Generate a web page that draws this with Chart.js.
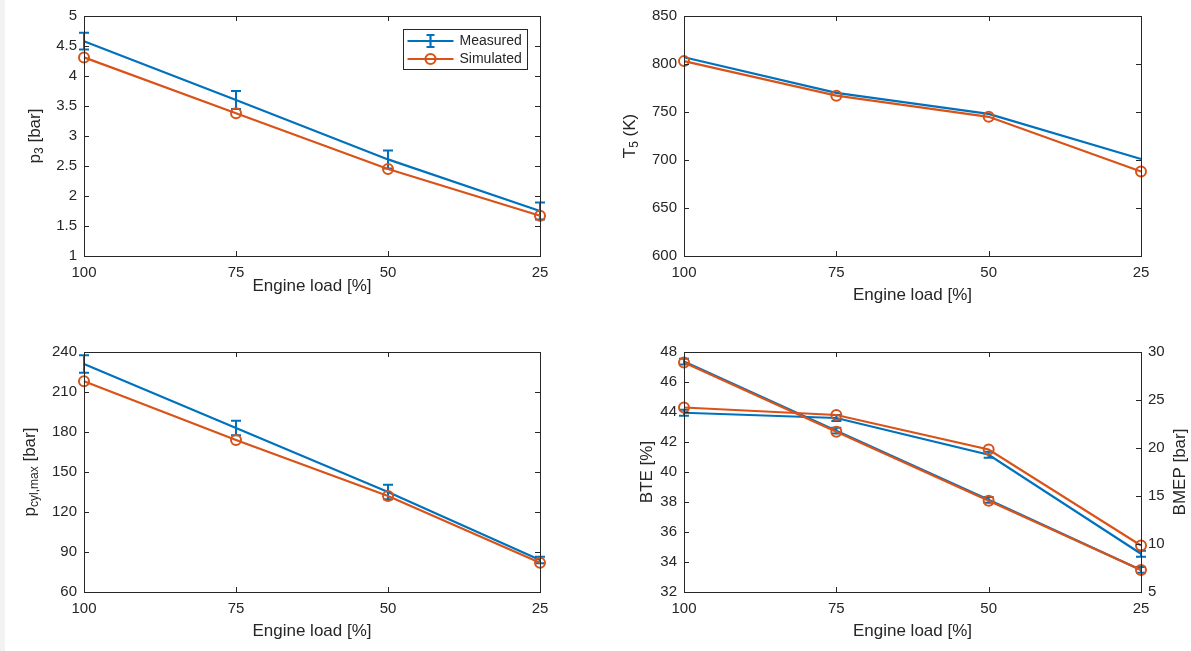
<!DOCTYPE html>
<html>
<head>
<meta charset="utf-8">
<script src="https://cdn.jsdelivr.net/npm/chart.js@4"></script>
<style>
  body { margin: 0; background: #fff; }
  #wrap { position: relative; width: 1191px; height: 651px; overflow: hidden; }
  #wrap canvas { position: absolute; left: 0; top: 0; }
  #edge { position: absolute; left: 0; top: 0; width: 5px; height: 651px; background: #f2f2f2; }
</style>
</head>
<body>
<div id="wrap">
  <div id="edge"></div>
  <canvas id="c1" width="1191" height="651"></canvas>
  <canvas id="c2" width="1191" height="651"></canvas>
  <canvas id="c3" width="1191" height="651"></canvas>
  <canvas id="c4" width="1191" height="651"></canvas>
</div>
<script>
// engine load categories (x axis)
const loadLabels = ['100', '75', '50', '25'];

// p3 [bar]
const p3Measured = [4.58, 3.60, 2.61, 1.75];
const p3MeasuredErr = [0.14, 0.15, 0.15, 0.14];
const p3Simulated = [4.31, 3.38, 2.45, 1.67];

// T5 (K)
const t5Measured = [807, 770, 748, 701];
const t5Simulated = [803, 767, 745, 688];

// p cyl,max [bar]
const pcylMeasured = [231, 183, 135, 84];
const pcylMeasuredErr = [6.5, 5.5, 5.5, 2.5];
const pcylSimulated = [218, 174, 132, 82];

// BTE [%] (left axis) and BMEP [bar] (right axis)
const bteMeasured = [43.95, 43.6, 41.15, 34.55];
const bteMeasuredErr = [0.2, 0.2, 0.2, 0.2];
const bteSimulated = [44.3, 43.8, 41.5, 35.1];
const bmepMeasured = [29.0, 21.8, 14.6, 7.3];
const bmepMeasuredErr = [0.3, 0.3, 0.3, 0.3];
const bmepSimulated = [28.9, 21.7, 14.5, 7.3];

const BLUE = '#0072BD';
const ORANGE = '#D95319';
const INK = '#262626';
const FAMILY = '"Liberation Sans", Arial, Helvetica, sans-serif';
const TICK_LEN = 5;

Chart.defaults.font.family = FAMILY;
Chart.defaults.color = INK;

//helpers for datasets
function measured(data, err, axis) {
    return {
        label: 'Measured', data: data, errors: err, yAxisID: axis || 'y',
        borderColor: BLUE, backgroundColor: BLUE, borderWidth: 2.2,
        pointRadius: 0, tension: 0, clip: false, order: 2
    };
}
function simulated(data, axis) {
    return {
        label: 'Simulated', data: data, yAxisID: axis || 'y',
        borderColor: ORANGE, backgroundColor: ORANGE, borderWidth: 2.2,
        pointRadius: 5, pointBorderWidth: 2, pointBackgroundColor: 'rgba(0,0,0,0)',
        pointBorderColor: ORANGE, tension: 0, clip: false, order: 1
    };
}
function yScale(min, max, step, pos) {
    return {
        type: 'linear', position: pos || 'left', min: min, max: max,
        grid: { display: false, drawTicks: false },
        border: { display: false },
        ticks: { stepSize: step, padding: 7, font: { size: 15 }, color: INK,
                 callback: v => String(v) },
        afterFit: s => { s.width = pos === 'right' ? 50 : 60; }
    };
}

//plugins
const errorBars = {
    id: 'errorBars',
    beforeDatasetsDraw(chart) {
        const ctx = chart.ctx;
        chart.data.datasets.forEach(ds => {
            if (!ds.errors) return;
            const ys = chart.scales[ds.yAxisID];
            const xs = chart.scales.x;
            ctx.save();
            ctx.strokeStyle = ds.borderColor;
            ctx.lineWidth = 2;
            ctx.beginPath();
            ds.data.forEach((v, i) => {
                const px = xs.getPixelForValue(i);
                const top = ys.getPixelForValue(v + ds.errors[i]);
                const bot = ys.getPixelForValue(v - ds.errors[i]);
                ctx.moveTo(px, top); ctx.lineTo(px, bot);
                ctx.moveTo(px - 5, top); ctx.lineTo(px + 5, top);
                ctx.moveTo(px - 5, bot); ctx.lineTo(px + 5, bot);
            });
            ctx.stroke();
            ctx.restore();
        });
    }
};

const frame = {
    id: 'frame',
    afterDraw(chart) {
        const { ctx, chartArea: a, scales } = chart;
        ctx.save();
        ctx.strokeStyle = INK;
        ctx.lineWidth = 1;
        ctx.beginPath();
        scales.x.ticks.forEach((t, i) => {
            const px = Math.round(scales.x.getPixelForTick(i)) + 0.5;
            ctx.moveTo(px, a.bottom); ctx.lineTo(px, a.bottom - TICK_LEN);
            ctx.moveTo(px, a.top); ctx.lineTo(px, a.top + TICK_LEN);
        });
        const yl = scales.y;
        const yr = scales.y1 || scales.y;
        yl.ticks.forEach(t => {
            const py = Math.round(yl.getPixelForValue(t.value)) + 0.5;
            ctx.moveTo(a.left, py); ctx.lineTo(a.left + TICK_LEN, py);
        });
        yr.ticks.forEach(t => {
            const py = Math.round(yr.getPixelForValue(t.value)) + 0.5;
            ctx.moveTo(a.right, py); ctx.lineTo(a.right - TICK_LEN, py);
        });
        ctx.stroke();
        ctx.strokeRect(Math.round(a.left) + 0.5, Math.round(a.top) + 0.5,
                       Math.round(a.right - a.left), Math.round(a.bottom - a.top));
        ctx.restore();
    }
};

// y titles with subscripts, rotated bottom-to-top
const yTitles = {
    id: 'yTitles',
    afterDraw(chart, args, opts) {
        const { ctx, chartArea: a } = chart;
        (opts.items || []).forEach(item => {
            const cy = (a.top + a.bottom) / 2;
            ctx.save();
            ctx.translate(item.x, cy);
            ctx.rotate(-Math.PI / 2);
            ctx.fillStyle = INK;
            ctx.textBaseline = 'middle';
            ctx.textAlign = 'left';
            let total = 0;
            const parts = item.parts.map(p => {
                ctx.font = (p.sub ? 12 : 17) + 'px ' + FAMILY;
                const w = ctx.measureText(p.t).width;
                total += w;
                return { t: p.t, sub: p.sub, w: w };
            });
            let x = -total / 2;
            parts.forEach(p => {
                ctx.font = (p.sub ? 12 : 17) + 'px ' + FAMILY;
                ctx.fillText(p.t, x, p.sub ? 5 : 0);
                x += p.w;
            });
            ctx.restore();
        });
    }
};

// boxed legend inside the top-left plot
const boxLegend = {
    id: 'boxLegend',
    afterDraw(chart, args, opts) {
        if (!opts.show) return;
        const { ctx, chartArea: a } = chart;
        const w = 124, h = 40;
        const left = Math.round(a.right - 13 - w) + 0.5;
        const top = Math.round(a.top + 13) + 0.5;
        ctx.save();
        ctx.fillStyle = '#fff';
        ctx.fillRect(left, top, w, h);
        ctx.strokeStyle = INK;
        ctx.lineWidth = 1;
        ctx.strokeRect(left, top, w, h);
        ctx.font = '14px ' + FAMILY;
        ctx.textBaseline = 'middle';
        const sorted = chart.data.datasets.slice().sort((p, q) => (q.order - p.order));
        sorted.forEach((ds, i) => {
            const ry = top + 11.5 + i * 18;
            const x0 = left + 4, x1 = left + 50, xm = (x0 + x1) / 2;
            ctx.strokeStyle = ds.borderColor;
            ctx.lineWidth = 2.2;
            ctx.beginPath();
            ctx.moveTo(x0, ry); ctx.lineTo(x1, ry);
            if (ds.errors) {
                ctx.moveTo(xm, ry - 6); ctx.lineTo(xm, ry + 6);
                ctx.moveTo(xm - 4, ry - 6); ctx.lineTo(xm + 4, ry - 6);
                ctx.moveTo(xm - 4, ry + 6); ctx.lineTo(xm + 4, ry + 6);
            }
            ctx.stroke();
            if (ds.pointRadius) {
                ctx.beginPath();
                ctx.arc(xm, ry, 5, 0, Math.PI * 2);
                ctx.stroke();
            }
            ctx.fillStyle = INK;
            ctx.fillText(ds.label, left + 56, ry);
        });
        ctx.restore();
    }
};

function makeChart(id, area, scales, datasets, titles, titlePad, legend) {
    const hasRight = !!scales.y1;
    scales.x = {
        type: 'category', offset: false,
        grid: { display: false, drawTicks: false },
        border: { display: false },
        ticks: { padding: 8, font: { size: 15 }, color: INK, maxRotation: 0, autoSkip: false },
        title: { display: true, text: 'Engine load [%]', font: { size: 17 }, color: INK,
                 padding: { top: 0, bottom: titlePad } },
        afterFit: s => { s.height = 50; }
    };
    return new Chart(document.getElementById(id).getContext('2d'), {
        type: 'line',
        data: { labels: loadLabels, datasets: datasets },
        options: {
            responsive: false,
            animation: false,
            devicePixelRatio: 1,
            layout: { padding: {
                left: area.l - 60, top: area.t,
                right: 1191 - area.r - (hasRight ? 50 : 0),
                bottom: 651 - area.b - 50 } },
            scales: scales,
            plugins: {
                legend: { display: false },
                tooltip: { enabled: false },
                yTitles: { items: titles },
                boxLegend: { show: !!legend }
            }
        },
        plugins: [errorBars, frame, yTitles, boxLegend]
    });
}

//render
makeChart('c1', { l: 84, r: 540, t: 15, b: 256 },
    { y: yScale(1, 5, 0.5) },
    [measured(p3Measured, p3MeasuredErr), simulated(p3Simulated)],
    [{ x: 35, parts: [{ t: 'p' }, { t: '3', sub: true }, { t: ' [bar]' }] }],
    9.8, true);

makeChart('c2', { l: 684, r: 1141, t: 15, b: 256 },
    { y: yScale(600, 850, 50) },
    [measured(t5Measured, null), simulated(t5Simulated)],
    [{ x: 630, parts: [{ t: 'T' }, { t: '5', sub: true }, { t: ' (K)' }] }],
    0, false);

makeChart('c3', { l: 84, r: 540, t: 352, b: 592 },
    { y: yScale(60, 240, 30) },
    [measured(pcylMeasured, pcylMeasuredErr), simulated(pcylSimulated)],
    [{ x: 30, parts: [{ t: 'p' }, { t: 'cyl,max', sub: true }, { t: ' [bar]' }] }],
    0, false);

makeChart('c4', { l: 684, r: 1141, t: 352, b: 592 },
    { y: yScale(32, 48, 2), y1: yScale(5, 30, 5, 'right') },
    [measured(bteMeasured, bteMeasuredErr, 'y'), simulated(bteSimulated, 'y'),
     measured(bmepMeasured, bmepMeasuredErr, 'y1'), simulated(bmepSimulated, 'y1')],
    [{ x: 647, parts: [{ t: 'BTE [%]' }] }, { x: 1180, parts: [{ t: 'BMEP [bar]' }] }],
    0, false);
</script>
</body>
</html>
